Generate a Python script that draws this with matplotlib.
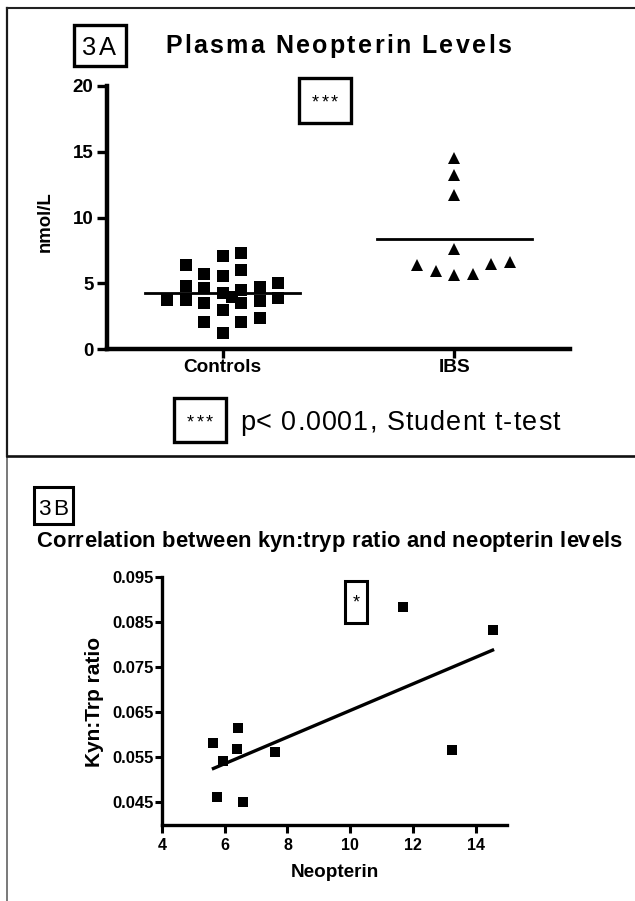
import numpy as np
import matplotlib
matplotlib.use("Agg")
import matplotlib.pyplot as plt
from matplotlib.patches import Rectangle
from matplotlib.lines import Line2D
from matplotlib.font_manager import FontProperties

plt.rcParams['font.family'] = ['Liberation Sans', 'DejaVu Sans']

# ---------------- data ----------------
groups = ["Controls", "IBS"]
controls_values = [3.75,
                   6.38, 4.80, 3.70,
                   5.68, 4.65, 3.52, 2.08,
                   7.06, 5.55, 4.28, 3.00, 1.23,
                   3.95,
                   7.30, 6.00, 4.48, 3.52, 2.08,
                   4.72, 3.62, 2.37,
                   5.03, 3.88]
controls_offset = [-0.24,
                   -0.16, -0.16, -0.16,
                   -0.08, -0.08, -0.08, -0.08,
                   0.0, 0.0, 0.0, 0.0, 0.0,
                   0.04,
                   0.08, 0.08, 0.08, 0.08, 0.08,
                   0.16, 0.16, 0.16,
                   0.24, 0.24]
neopterin = [5.64, 5.74, 5.95, 6.40, 6.43, 6.58, 7.59, 11.68, 13.26, 14.54]
ibs_offset = [0.0, 0.08, -0.08, -0.16, 0.16, 0.24, 0.0, 0.0, 0.0, 0.0]
kyn_trp = [0.05825, 0.0462, 0.0542, 0.0568, 0.0616, 0.0450, 0.0562, 0.0883, 0.0566, 0.0833]
yticks_top = [0, 5, 10, 15, 20]
xticks_bot = [4, 6, 8, 10, 12, 14]
yticks_bot = [0.045, 0.055, 0.065, 0.075, 0.085, 0.095]
ytick_labels_bot = ["0.045", "0.055", "0.065", "0.075", "0.085", "0.095"]

W, H = 635, 901
fig = plt.figure(figsize=(W / 100, H / 100), dpi=100)
fig.patch.set_facecolor('white')
renderer = fig.canvas.get_renderer()


def fx(px):
    return px / W


def fy(py):
    return 1 - py / H


def add_axes_px(left, top, right, bottom):
    return fig.add_axes([fx(left), fy(bottom), (right - left) / W, (bottom - top) / H])


def box(x0, y0, x1, y1, lw):
    fig.add_artist(Rectangle((fx(x0), fy(y1)), (x1 - x0) / W, (y1 - y0) / H,
                             transform=fig.transFigure, fill=False,
                             edgecolor='black', linewidth=lw))


def spaced_text(x, y, s, size_px, weight='normal', target_width=None, ha='left'):
    prop = FontProperties(family=['Liberation Sans', 'DejaVu Sans'],
                          size=size_px * 72 / 100, weight=weight)

    def width(t):
        return renderer.get_text_width_height_descent(t, prop, ismath=False)[0]

    wbar = width('|')
    natural = width(s + '|') - wbar
    sp = 0.0
    if target_width is not None and len(s) > 1:
        sp = (target_width - natural) / (len(s) - 1)
    total = natural + sp * (len(s) - 1)
    start = x if ha == 'left' else x - total / 2
    for i, c in enumerate(s):
        if c == ' ':
            continue
        off = width(s[:i] + '|') - wbar if i > 0 else 0.0
        fig.text(fx(start + off + i * sp), fy(y), c, fontproperties=prop,
                 ha='left', va='baseline', color='black')


# ---------------- frame ----------------
fig.add_artist(Line2D([fx(7), fx(7)], [fy(8.3), fy(456)], transform=fig.transFigure,
                      color='#1a1a1a', linewidth=1.6))
fig.add_artist(Line2D([fx(7), fx(7)], [fy(456), fy(901)], transform=fig.transFigure,
                      color='#555555', linewidth=1.1))
fig.add_artist(Line2D([fx(7), fx(635)], [fy(8.3), fy(8.3)], transform=fig.transFigure,
                      color='#222222', linewidth=1.5))
fig.add_artist(Line2D([fx(7), fx(635)], [fy(456), fy(456)], transform=fig.transFigure,
                      color='#111111', linewidth=1.9))

# ---------------- panel A ----------------
axA = add_axes_px(107, 86, 570, 349)
for i, (vals, offs, mk) in enumerate([(controls_values, controls_offset, 's'),
                                      (neopterin, ibs_offset, '^')]):
    xs = i + np.array(offs)
    axA.plot(xs, vals, linestyle='none', marker=mk, markersize=9.3,
             color='black', markeredgewidth=0, clip_on=False)
    m = np.mean(vals)
    axA.plot([i - 0.335, i + 0.335], [m, m], color='black', linewidth=2.0)
axA.set_xlim(-0.5, 1.5)
axA.set_ylim(0, 20)
axA.set_xticks([0, 1])
axA.set_xticklabels(groups, fontsize=13.7, fontweight='bold')
axA.set_yticks(yticks_top)
axA.set_yticklabels([str(v) for v in yticks_top], fontsize=13.5, fontweight='bold')
for s in ['top', 'right']:
    axA.spines[s].set_visible(False)
for s in ['left', 'bottom']:
    axA.spines[s].set_linewidth(3.2)
axA.tick_params(axis='y', length=7.2, width=2.4, pad=2.5)
axA.tick_params(axis='x', length=6.5, width=2.4, pad=1.0)
axA.set_facecolor('none')

fig.text(fx(45.6), fy(222), "nmol/L", rotation=90, ha='center', va='center',
         fontsize=13.4, fontweight='bold')

box(73.7, 25, 125.6, 66, 2.4)
spaced_text(81, 55, "3A", 25.5, target_width=35)
spaced_text(165, 53.3, "Plasma Neopterin Levels", 25, weight='bold', target_width=346)

box(299, 78.3, 350.7, 123.3, 2.4)
spaced_text(325, 107, "***", 18, ha='center', target_width=26)

box(174, 398, 226, 441.7, 2.4)
spaced_text(200, 427, "***", 18, ha='center', target_width=26)
spaced_text(239.8, 430, "p< 0.0001, Student t-test", 27, target_width=320)

# ---------------- panel B ----------------
axB = add_axes_px(162, 577.3, 507, 825)
axB.plot(neopterin, kyn_trp, linestyle='none', marker='s', markersize=7.2,
         color='black', markeredgewidth=0)
slope, intercept = np.polyfit(neopterin, kyn_trp, 1)
xf = np.array([min(neopterin), max(neopterin)])
axB.plot(xf, slope * xf + intercept, color='black', linewidth=2.4)
axB.set_xlim(4, 15)
axB.set_ylim(0.040, 0.095)
axB.set_xticks(xticks_bot)
axB.set_xticklabels([str(v) for v in xticks_bot], fontsize=11.5, fontweight='bold')
axB.set_yticks(yticks_bot)
axB.set_yticklabels(ytick_labels_bot, fontsize=12, fontweight='bold')
for s in ['top', 'right']:
    axB.spines[s].set_visible(False)
for s in ['left', 'bottom']:
    axB.spines[s].set_linewidth(2.4)
axB.tick_params(axis='y', length=5.0, width=2.2, pad=1.0)
axB.tick_params(axis='x', length=5.8, width=2.2, pad=3.5)
axB.set_facecolor('none')

fig.text(fx(334.7), fy(877), "Neopterin", ha='center', va='baseline',
         fontsize=13.6, fontweight='bold')
fig.text(fx(94), fy(701.7), "Kyn:Trp ratio", rotation=90, ha='center', va='center',
         fontsize=15, fontweight='bold')

box(34.4, 486.7, 72.9, 524, 2.2)
spaced_text(38.5, 515, "3B", 22.5, target_width=30)
spaced_text(36.5, 546.7, "Correlation between kyn:tryp ratio and neopterin levels", 22,
            weight='bold', target_width=585)

box(345, 581, 367.4, 622.7, 2.2)
spaced_text(356, 607, "*", 18, ha='center')

fig.savefig("out.png", dpi=100, facecolor='white')
